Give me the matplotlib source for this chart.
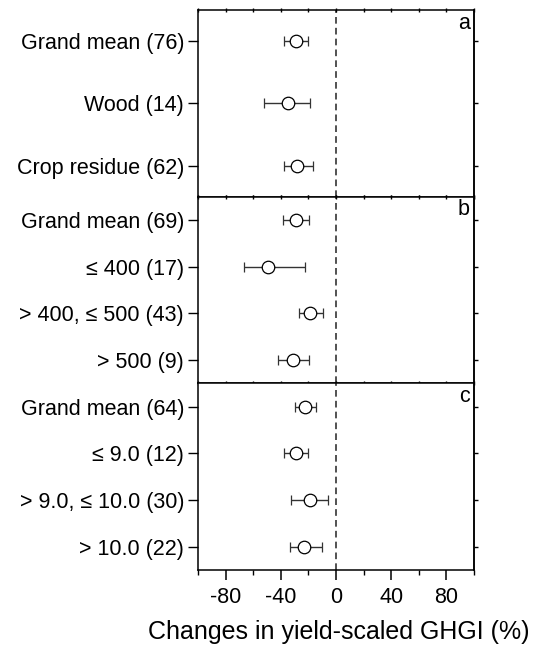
import matplotlib
matplotlib.use('Agg')
import matplotlib.pyplot as plt
from matplotlib.ticker import MultipleLocator

plt.rcParams['font.family'] = ['Liberation Sans', 'DejaVu Sans']

#----------data----------*
labels_a = ['Grand mean (76)', 'Wood (14)', 'Crop residue (62)']
mean_a = [-29, -35, -28]
lo_a = [-38, -52.5, -38]
hi_a = [-20, -19, -16.5]

labels_b = ['Grand mean (69)', '\u2264 400 (17)', '> 400, \u2264 500 (43)', '> 500 (9)']
mean_b = [-29, -49, -18.5, -31.5]
lo_b = [-38.5, -66.5, -26.5, -42]
hi_b = [-19.5, -22.5, -9.5, -19.5]

labels_c = ['Grand mean (64)', '\u2264 9.0 (12)', '> 9.0, \u2264 10.0 (30)', '> 10.0 (22)']
mean_c = [-22.5, -29, -18.5, -23]
lo_c = [-30, -37.5, -32.5, -33.5]
hi_c = [-14.5, -20.5, -5.5, -10.5]

panels = [('a', labels_a, mean_a, lo_a, hi_a),
          ('b', labels_b, mean_b, lo_b, hi_b),
          ('c', labels_c, mean_c, lo_c, hi_c)]

#----------figure----------*
fig = plt.figure(figsize=(5.48, 6.5), dpi=100)
gs = fig.add_gridspec(3, 1, left=0.3613, right=0.865, top=0.9846, bottom=0.123,
                      hspace=0, height_ratios=[1, 1, 1])

fs = 15.5
lw_spine = 1.1
for i, (tag, labels, mean, lo, hi) in enumerate(panels):
    ax = fig.add_subplot(gs[i])
    n = len(labels)
    ypos = list(range(n))
    xerr = [[m - l for m, l in zip(mean, lo)], [h - m for m, h in zip(mean, hi)]]
    ax.errorbar(mean, ypos, xerr=xerr, fmt='o', mfc='white', mec='black', mew=0.9,
                ms=9, ecolor='#333333', elinewidth=1.0, capsize=3.6, capthick=1.0,
                zorder=3)
    ax.axvline(0, color='#333333', ls=(0, (4, 2.5)), lw=1.2, zorder=1)
    ax.set_xlim(-100, 100)
    ax.set_ylim(n - 0.5, -0.5)
    ax.set_yticks(ypos)
    ax.set_yticklabels(labels, fontsize=fs)
    ax.tick_params(axis='y', direction='out', length=7, width=1.0, pad=3, right=False)
    ax.xaxis.set_major_locator(MultipleLocator(40))
    ax.xaxis.set_minor_locator(MultipleLocator(20))
    for s in ax.spines.values():
        s.set_linewidth(lw_spine)

    # short ticks on the right spine
    sec = ax.secondary_yaxis('right')
    sec.set_yticks(ypos)
    sec.set_yticklabels([])
    sec.tick_params(direction='out', length=3, width=1.0)
    sec.spines['right'].set_linewidth(lw_spine)

    if i < 2:
        ax.tick_params(axis='x', which='both', direction='inout', top=True, bottom=True,
                       labelbottom=False, length=3, width=1.0)
    else:
        ax.tick_params(axis='x', which='major', direction='out', length=7.5, width=1.1,
                       labelsize=fs, pad=5)
        ax.tick_params(axis='x', which='minor', direction='out', length=3.5, width=1.0)
        ax.set_xticks([-80, -40, 0, 40, 80])
        ax.set_xticklabels(['-80', '-40', '0', '40', '80'])

    ax.text(0.985, 0.985, tag, transform=ax.transAxes, ha='right', va='top', fontsize=fs)

fig.text(0.619, 0.028, 'Changes in yield-scaled GHGI (%)', ha='center', va='center',
         fontsize=18)

plt.savefig('out.png', dpi=100)
